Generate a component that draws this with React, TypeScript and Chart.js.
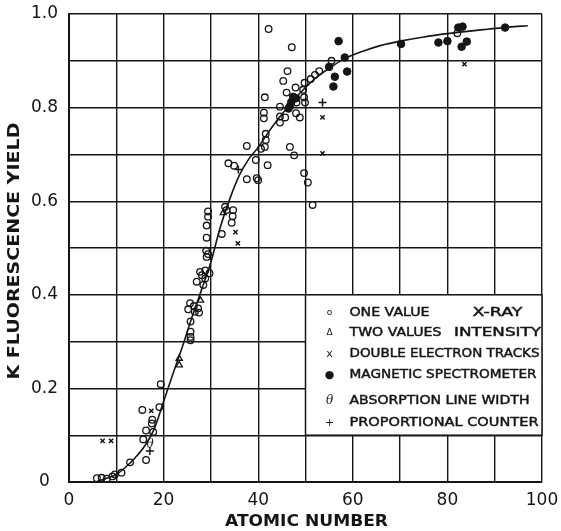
import React, { useEffect, useRef } from 'react';
import { Chart, registerables } from 'chart.js';

Chart.register(...registerables);

// ---- Data (atomic number Z, K fluorescence yield) ----
const curveZ = [6, 8, 10, 12, 14, 16, 18, 20, 22, 24, 26, 28, 30, 32, 34, 36, 38, 40, 42, 44, 46, 48, 50, 52, 55, 58, 62, 66, 70, 75, 80, 88, 93, 97];
const curveK = [0.002, 0.008, 0.016, 0.032, 0.052, 0.077, 0.113, 0.172, 0.232, 0.29, 0.352, 0.41, 0.47, 0.545, 0.605, 0.655, 0.69, 0.715, 0.745, 0.773, 0.798, 0.822, 0.843, 0.862, 0.884, 0.903, 0.92, 0.933, 0.942, 0.951, 0.958, 0.967, 0.972, 0.975];

const oneValueZ = [5.9, 6.9, 8.0, 9.2, 9.7, 11.1, 12.9, 15.5, 15.7, 16.3, 16.3, 17.5, 17.6, 17.8, 19.1, 19.4,
  25.7, 25.7, 25.7, 25.7, 25.6, 25.2, 26.4, 27.3, 27.5, 26.6, 27.0, 28.1, 28.8, 29.7, 28.4, 28.8, 27.7,
  29.0, 29.4, 29.1, 29.4, 29.4, 29.1, 29.1, 33.0, 33.3, 34.7, 34.6, 34.4, 32.3,
  33.7, 34.9, 37.6, 39.5, 42.0, 37.6, 39.7, 40.0, 41.4, 40.6, 41.6, 41.6, 41.2, 41.2, 41.4, 42.2,
  44.6, 44.6, 45.7, 44.6, 48.0, 48.8, 46.7, 47.6, 49.7, 50.5, 51.5,
  45.3, 46.2, 47.1, 47.9, 46.0, 48.1, 49.9, 49.7, 49.5, 49.8, 51.1, 52.0, 52.9, 55.5, 82.1];
const oneValueK = [0.008, 0.009, 0.007, 0.012, 0.016, 0.02, 0.042, 0.154, 0.091, 0.047, 0.11, 0.125, 0.133, 0.107, 0.16, 0.209,
  0.343, 0.321, 0.31, 0.303, 0.382, 0.369, 0.376, 0.371, 0.362, 0.364, 0.428, 0.442, 0.435, 0.446, 0.421, 0.452, 0.449,
  0.494, 0.487, 0.481, 0.578, 0.567, 0.548, 0.522, 0.588, 0.581, 0.581, 0.568, 0.554, 0.53,
  0.681, 0.676, 0.718, 0.688, 0.677, 0.647, 0.649, 0.645, 0.716, 0.712, 0.731, 0.744, 0.789, 0.777, 0.822, 0.968,
  0.802, 0.781, 0.779, 0.768, 0.788, 0.779, 0.716, 0.698, 0.66, 0.64, 0.592,
  0.857, 0.878, 0.929, 0.843, 0.832, 0.811, 0.811, 0.822, 0.838, 0.853, 0.861, 0.87, 0.878, 0.9, 0.959];

const twoValuesZ = [23.3, 23.3, 27.8, 32.6];
const twoValuesK = [0.264, 0.25, 0.388, 0.575];

const doubleElectronZ = [7.1, 8.9, 17.4, 35.2, 35.7, 53.6, 53.6, 83.6];
const doubleElectronK = [0.088, 0.088, 0.152, 0.534, 0.51, 0.779, 0.702, 0.893];

const magneticZ = [46.4, 46.7, 47.4, 48.0, 47.0, 55.0, 56.2, 55.9, 57.0, 58.3, 58.8, 70.2, 78.1, 80.0, 82.3, 83.2, 83.0, 84.1, 92.2];
const magneticK = [0.798, 0.803, 0.823, 0.82, 0.812, 0.887, 0.866, 0.845, 0.942, 0.907, 0.877, 0.936, 0.939, 0.942, 0.971, 0.973, 0.93, 0.941, 0.971];

const absorptionZ = [17.1];
const absorptionK = [0.08];

const proportionalZ = [17.1, 35.8, 53.6];
const proportionalK = [0.066, 0.668, 0.811];

const xTickLabels = ['0', '20', '40', '60', '80', '100'];
const yTickLabels = ['0', '0.2', '0.4', '0.6', '0.8', '1.0'];

const xTitle = 'ATOMIC NUMBER';
const yTitle = 'K FLUORESCENCE YIELD';

const legendSymbols = ['o', 'Δ', 'x', '●', 'θ', '+'];
const legendLabels = ['ONE VALUE', 'TWO VALUES', 'DOUBLE ELECTRON TRACKS', 'MAGNETIC SPECTROMETER', 'ABSORPTION LINE WIDTH', 'PROPORTIONAL COUNTER'];
const legendBracket = ['X-RAY', 'INTENSITY'];

const pts = (xs: number[], ys: number[]) => xs.map((x, i) => ({ x, y: ys[i] }));

const INK = '#151515';
const FONT = '"DejaVu Sans", sans-serif';

function drawFitted(ctx: CanvasRenderingContext2D, text: string, x: number, y: number, width: number, align: 'left' | 'center', bolden = 0) {
  const w = ctx.measureText(text).width;
  const s = width / w;
  ctx.save();
  ctx.translate(x, y);
  ctx.scale(s, 1);
  ctx.textAlign = align;
  ctx.fillText(text, 0, 0);
  if (bolden > 0) {
    ctx.lineWidth = bolden;
    ctx.strokeStyle = INK;
    ctx.strokeText(text, 0, 0);
  }
  ctx.restore();
}

function makeTheta(): HTMLCanvasElement {
  const c = document.createElement('canvas');
  c.width = 10;
  c.height = 14;
  const g = c.getContext('2d')!;
  g.fillStyle = INK;
  g.font = 'italic 12px "DejaVu Serif", serif';
  g.textAlign = 'center';
  g.textBaseline = 'middle';
  g.fillText('θ', 5, 7);
  return c;
}

const overlayPlugin = {
  id: 'overlay',
  afterDraw(chart: any) {
    const { ctx, chartArea, scales } = chart;
    const xs = scales.x;
    const ys = scales.y;
    ctx.save();
    ctx.fillStyle = INK;
    ctx.textBaseline = 'middle';

    // axis titles
    ctx.font = `bold 16px ${FONT}`;
    drawFitted(ctx, xTitle, (chartArea.left + chartArea.right) / 2 + 1, 522, 163, 'center');
    ctx.save();
    ctx.translate(15, (chartArea.top + chartArea.bottom) / 2 + 3);
    ctx.rotate(-Math.PI / 2);
    drawFitted(ctx, yTitle, 0, 0, 257, 'center');
    ctx.restore();

    // legend box
    const l = xs.getPixelForValue(50);
    const r = xs.getPixelForValue(100);
    const t = ys.getPixelForValue(0.4);
    const b = ys.getPixelForValue(0.1);
    ctx.fillStyle = '#ffffff';
    ctx.fillRect(l, t, r - l, b - t);
    ctx.strokeStyle = INK;
    ctx.lineWidth = 1.5;
    ctx.strokeRect(l, t, r - l, b - t);

    ctx.fillStyle = INK;
    const rowY = [18, 38, 59.5, 80.5, 106, 128.5];
    const widths = [80, 92, 190, 187, 180, 189];
    legendLabels.forEach((lab, i) => {
      const y = t + rowY[i];
      if (i === 4) ctx.font = `italic 12px "DejaVu Serif", serif`;
      else if (i === 0 || i === 1) ctx.font = `9px ${FONT}`;
      else ctx.font = `11px ${FONT}`;
      ctx.textAlign = 'center';
      ctx.fillText(legendSymbols[i], l + 24, y);
      ctx.font = `12px ${FONT}`;
      drawFitted(ctx, lab, l + 44, y, widths[i], 'left', 0.45);
    });
    ctx.font = `12px ${FONT}`;
    drawFitted(ctx, legendBracket[0], l + 192, t + rowY[0], 50, 'center', 0.45);
    drawFitted(ctx, legendBracket[1], l + 192, t + rowY[1], 87, 'center', 0.45);
    ctx.restore();
  },
};

export default function App() {
  const ref = useRef<HTMLCanvasElement | null>(null);

  useEffect(() => {
    if (!ref.current) return;
    const theta = makeTheta();
    const openCircle = { borderColor: INK, backgroundColor: 'rgba(255,255,255,0)', borderWidth: 1.3 };
    const chart = new Chart(ref.current, {
      type: 'scatter',
      data: {
        datasets: [
          {
            type: 'line',
            data: pts(curveZ, curveK),
            borderColor: INK,
            borderWidth: 1.6,
            pointRadius: 0,
            cubicInterpolationMode: 'monotone',
            fill: false,
          } as any,
          { data: pts(oneValueZ, oneValueK), pointStyle: 'circle', pointRadius: 3.3, ...openCircle },
          { data: pts(twoValuesZ, twoValuesK), pointStyle: 'triangle', pointRadius: 3.6, ...openCircle },
          { data: pts(doubleElectronZ, doubleElectronK), pointStyle: 'crossRot', pointRadius: 3, borderColor: INK, borderWidth: 1.5 },
          { data: pts(magneticZ, magneticK), pointStyle: 'circle', pointRadius: 3.8, borderColor: INK, backgroundColor: INK, borderWidth: 1 },
          { data: pts(absorptionZ, absorptionK), pointStyle: theta as any, pointRadius: 5 },
          { data: pts(proportionalZ, proportionalK), pointStyle: 'cross', pointRadius: 4, borderColor: INK, borderWidth: 1.5 },
        ],
      },
      options: {
        responsive: false,
        animation: false,
        layout: { padding: { top: 14, right: 19, left: 0, bottom: 0 } },
        plugins: { legend: { display: false }, tooltip: { enabled: false } },
        scales: {
          x: {
            type: 'linear',
            min: 0,
            max: 100,
            ticks: {
              stepSize: 10,
              autoSkip: false,
              maxRotation: 0,
              padding: 8,
              color: INK,
              font: { family: FONT, size: 17 },
              callback: (v: any) => {
                const n = Math.round(Number(v));
                return n % 20 === 0 ? xTickLabels[n / 20] : '';
              },
            },
            grid: { color: INK, lineWidth: 1.4, drawTicks: false },
            border: { color: INK, width: 2 },
            afterFit: (s: any) => { s.height = 49; s.paddingLeft = 0; s.paddingRight = 0; },
          },
          y: {
            min: 0,
            max: 1,
            ticks: {
              stepSize: 0.1,
              autoSkip: false,
              padding: 11,
              crossAlign: 'center',
              color: INK,
              font: { family: FONT, size: 17 },
              callback: (v: any) => {
                const n = Math.round(Number(v) * 10);
                return n % 2 === 0 ? yTickLabels[n / 2] : '';
              },
            },
            grid: { color: INK, lineWidth: 1.4, drawTicks: false },
            border: { color: INK, width: 2 },
            afterFit: (s: any) => { s.width = 69; s.paddingTop = 0; s.paddingBottom = 0; },
          },
        },
      },
      plugins: [overlayPlugin],
    } as any);
    return () => chart.destroy();
  }, []);

  return (
    <div style={{ position: 'absolute', left: 0, top: 0, width: 561, height: 531, background: '#fff' }}>
      <canvas ref={ref} width={561} height={531} />
    </div>
  );
}
